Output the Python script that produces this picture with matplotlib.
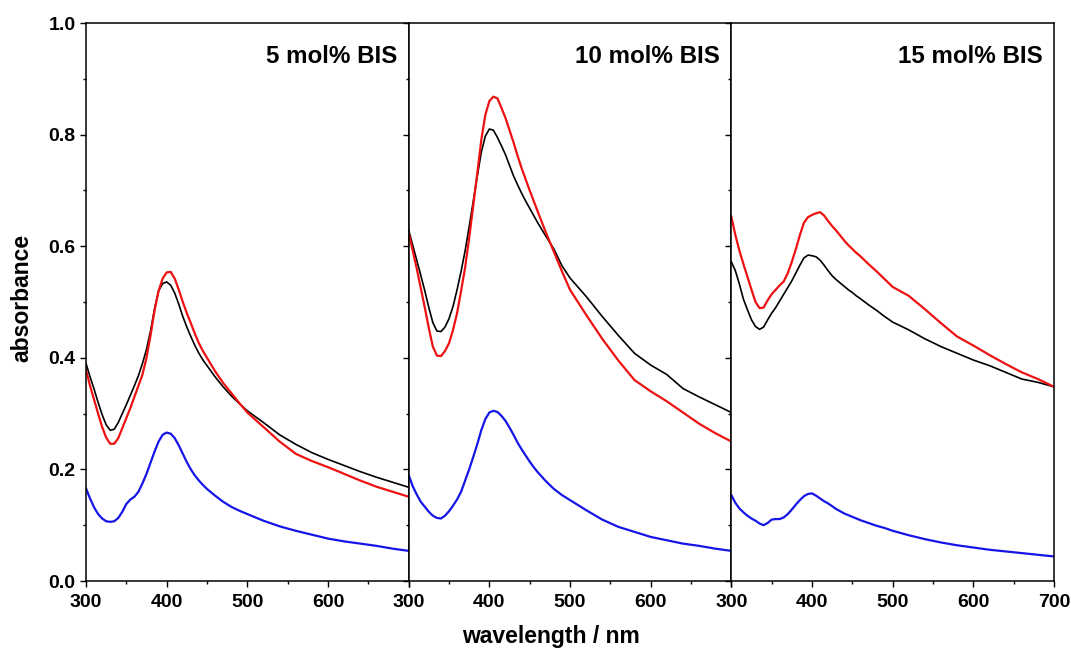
import numpy as np
import matplotlib
matplotlib.use("Agg")
import matplotlib.pyplot as plt
from matplotlib.ticker import MultipleLocator

plt.rcParams['font.family'] = ['Liberation Sans', 'DejaVu Sans']
plt.rcParams['font.weight'] = 'bold'

wl = [300, 305, 310, 315, 320, 325, 330, 335, 340, 345, 350, 355, 360, 365,
      370, 375, 380, 385, 390, 395, 400, 405, 410, 415, 420, 425, 430, 435,
      440, 445, 450, 455, 460, 470, 480, 490, 500,
      520, 540, 560, 580, 600, 620, 640, 660, 680, 700]

titles = ['5 mol% BIS', '10 mol% BIS', '15 mol% BIS']

# 5 mol% BIS
black_5 = [0.390, 0.366, 0.344, 0.320, 0.298, 0.280, 0.270, 0.272, 0.284, 0.300,
           0.316, 0.333, 0.350, 0.368, 0.390, 0.415, 0.448, 0.488, 0.520, 0.533,
           0.536, 0.530, 0.516, 0.496, 0.474, 0.455, 0.438, 0.422, 0.408, 0.396,
           0.386, 0.376, 0.366, 0.348, 0.332, 0.318, 0.305,
           0.284, 0.262, 0.245, 0.230, 0.218, 0.207, 0.196, 0.186, 0.177, 0.168]
red_5 = [0.378, 0.350, 0.325, 0.300, 0.276, 0.257, 0.246, 0.246, 0.256, 0.274,
         0.292, 0.310, 0.330, 0.350, 0.370, 0.400, 0.440, 0.485, 0.520, 0.542,
         0.553, 0.554, 0.542, 0.522, 0.500, 0.480, 0.462, 0.443, 0.426, 0.412,
         0.400, 0.388, 0.376, 0.355, 0.337, 0.319, 0.302,
         0.276, 0.250, 0.228, 0.215, 0.204, 0.192, 0.180, 0.169, 0.160, 0.151]
blue_5 = [0.166, 0.148, 0.132, 0.120, 0.112, 0.107, 0.106, 0.107, 0.113, 0.124,
          0.138, 0.146, 0.151, 0.160, 0.175, 0.192, 0.212, 0.232, 0.250, 0.262,
          0.266, 0.264, 0.256, 0.243, 0.228, 0.213, 0.200, 0.189, 0.180, 0.172,
          0.165, 0.159, 0.153, 0.142, 0.133, 0.126, 0.120,
          0.108, 0.098, 0.090, 0.083, 0.076, 0.071, 0.067, 0.063, 0.058, 0.054]

# 10 mol% BIS
black_10 = [0.629, 0.602, 0.575, 0.548, 0.520, 0.490, 0.463, 0.448, 0.447, 0.455,
            0.470, 0.492, 0.522, 0.555, 0.592, 0.635, 0.680, 0.725, 0.768, 0.797,
            0.810, 0.808, 0.795, 0.780, 0.764, 0.745, 0.726, 0.710, 0.695, 0.681,
            0.668, 0.655, 0.642, 0.618, 0.595, 0.565, 0.543,
            0.510, 0.474, 0.440, 0.408, 0.387, 0.370, 0.345, 0.330, 0.316, 0.302]
red_10 = [0.624, 0.592, 0.560, 0.525, 0.490, 0.453, 0.420, 0.404, 0.403, 0.412,
          0.426, 0.450, 0.480, 0.520, 0.562, 0.615, 0.672, 0.730, 0.790, 0.835,
          0.860, 0.868, 0.865, 0.848, 0.830, 0.808, 0.786, 0.762, 0.740, 0.720,
          0.700, 0.681, 0.662, 0.625, 0.590, 0.555, 0.522,
          0.477, 0.434, 0.395, 0.360, 0.340, 0.322, 0.302, 0.282, 0.265, 0.250]
blue_10 = [0.190, 0.170, 0.155, 0.142, 0.133, 0.124, 0.117, 0.113, 0.112, 0.117,
           0.125, 0.135, 0.146, 0.160, 0.180, 0.200, 0.222, 0.245, 0.270, 0.290,
           0.302, 0.305, 0.303, 0.296, 0.287, 0.275, 0.262, 0.248, 0.236, 0.225,
           0.214, 0.204, 0.195, 0.179, 0.165, 0.154, 0.145,
           0.127, 0.110, 0.097, 0.088, 0.079, 0.073, 0.067, 0.063, 0.058, 0.054]

# 15 mol% BIS
black_15 = [0.572, 0.556, 0.532, 0.505, 0.486, 0.468, 0.456, 0.451, 0.455, 0.468,
            0.480, 0.490, 0.502, 0.514, 0.526, 0.538, 0.552, 0.566, 0.579, 0.584,
            0.583, 0.581, 0.575, 0.566, 0.556, 0.547, 0.540, 0.534, 0.528, 0.522,
            0.517, 0.511, 0.506, 0.495, 0.485, 0.474, 0.464,
            0.450, 0.434, 0.420, 0.408, 0.396, 0.386, 0.374, 0.362, 0.356, 0.348]
red_15 = [0.653, 0.620, 0.592, 0.568, 0.545, 0.522, 0.500, 0.489, 0.490, 0.503,
          0.514, 0.522, 0.530, 0.537, 0.552, 0.572, 0.595, 0.620, 0.642, 0.652,
          0.656, 0.659, 0.661, 0.655, 0.645, 0.636, 0.628, 0.619, 0.610, 0.602,
          0.595, 0.588, 0.582, 0.568, 0.555, 0.541, 0.527,
          0.511, 0.487, 0.462, 0.438, 0.422, 0.405, 0.389, 0.374, 0.362, 0.348]
blue_15 = [0.154, 0.140, 0.130, 0.123, 0.117, 0.112, 0.108, 0.103, 0.100, 0.104,
           0.110, 0.111, 0.111, 0.114, 0.120, 0.128, 0.137, 0.145, 0.152, 0.156,
           0.157, 0.153, 0.148, 0.143, 0.139, 0.134, 0.129, 0.125, 0.121, 0.118,
           0.115, 0.112, 0.109, 0.104, 0.099, 0.095, 0.090,
           0.082, 0.075, 0.069, 0.064, 0.060, 0.056, 0.053, 0.050, 0.047, 0.044]

blacks = [black_5, black_10, black_15]
reds = [red_5, red_10, red_15]
blues = [blue_5, blue_10, blue_15]

fig = plt.figure(figsize=(10.71, 6.48), dpi=100)
left, right, bottom, top = 86 / 1071, 1054 / 1071, 1 - 581 / 648, 1 - 23 / 648
w = (right - left) / 3

for i in range(3):
    ax = fig.add_axes([left + i * w, bottom, w, top - bottom])
    ax.plot(wl, blacks[i], color='black', lw=1.2)
    ax.plot(wl, reds[i], color='#ee1111', lw=1.6)
    ax.plot(wl, blues[i], color='#1515e8', lw=1.6)
    ax.set_xlim(300, 700)
    ax.set_ylim(0, 1.0)
    ax.xaxis.set_minor_locator(MultipleLocator(50))
    ax.yaxis.set_minor_locator(MultipleLocator(0.1))
    ax.set_yticks([0.0, 0.2, 0.4, 0.6, 0.8, 1.0])
    ax.set_xticks([300, 400, 500, 600, 700])
    if i < 2:
        ax.set_xticklabels(['300', '400', '500', '600', ''])
    if i > 0:
        ax.set_yticklabels([])
    else:
        ax.set_yticklabels(['0.0', '0.2', '0.4', '0.6', '0.8', '1.0'])
    ax.tick_params(which='major', direction='out', length=4.5, width=1,
                   labelsize=14, pad=3)
    ax.tick_params(axis='x', which='major', pad=5)
    ax.tick_params(which='minor', direction='out', length=2.5, width=1)
    for s in ax.spines.values():
        s.set_linewidth(1.1)
    for lab in ax.get_xticklabels() + ax.get_yticklabels():
        lab.set_fontweight('bold')
    ax.text(0.966, 0.928, titles[i], transform=ax.transAxes, ha='right',
            va='baseline', fontsize=17.4, fontweight='bold')

fig.text(551 / 1071, 5 / 648, 'wavelength / nm', ha='center', va='baseline',
         fontsize=16.5, fontweight='bold')
fig.text(22 / 1071, 1 - 298 / 648, 'absorbance', ha='center', va='center',
         rotation=90, fontsize=16.5, fontweight='bold')

fig.savefig('out.png', dpi=100)
